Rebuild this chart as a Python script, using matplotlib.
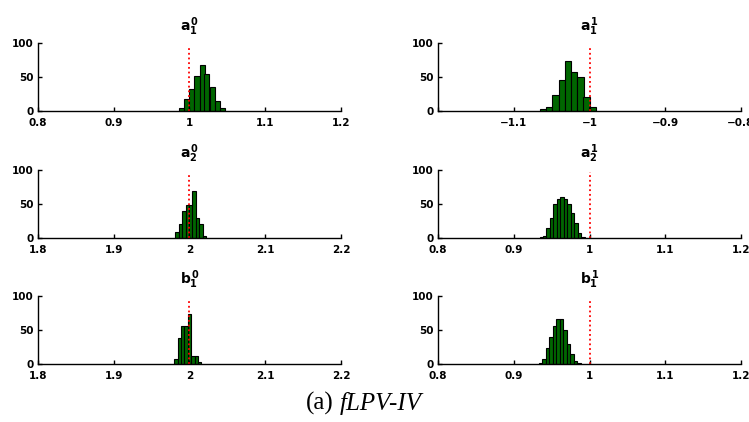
import matplotlib.pyplot as plt

plt.rcParams['font.family'] = ['DejaVu Sans']
plt.rcParams['mathtext.fontset'] = 'custom'
plt.rcParams['mathtext.rm'] = 'DejaVu Sans:bold'
plt.rcParams['mathtext.it'] = 'DejaVu Sans:bold'
plt.rcParams['mathtext.bf'] = 'DejaVu Sans:bold'

# panel titles and true parameter values
titles = [r'$a_1^0$', r'$a_1^1$', r'$a_2^0$', r'$a_2^1$', r'$b_1^0$', r'$b_1^1$']
true_values = [1.0, -1.0, 2.0, 1.0, 2.0, 1.0]
true_line_tops = [92, 92, 93, 97, 92, 95]

# histogram bins (centres) and counts
a10_centers = [0.989, 0.996, 1.003, 1.010, 1.017, 1.023, 1.030, 1.037, 1.044]
a10_counts = [5, 18, 32, 51, 68, 55, 36, 14, 5]
a11_centers = [-1.061, -1.053, -1.045, -1.036, -1.028, -1.020, -1.012, -1.004, -0.996]
a11_counts = [3, 6, 23, 46, 74, 57, 50, 20, 6]
a20_centers = [1.9837, 1.9882, 1.9927, 1.9972, 2.0017, 2.0062, 2.0107, 2.0152, 2.0197]
a20_counts = [9, 21, 39, 48, 48, 69, 30, 20, 3]
a21_centers = [0.9363, 0.9409, 0.9455, 0.9501, 0.9547, 0.9593, 0.9639,
               0.9685, 0.9731, 0.9777, 0.9823, 0.9869, 0.9915]
a21_counts = [1, 3, 14, 30, 50, 58, 60, 57, 50, 37, 22, 8, 2]
b10_centers = [1.9820, 1.9865, 1.9910, 1.9955, 2.0000, 2.0045, 2.0090, 2.0135]
b10_counts = [8, 38, 56, 56, 74, 12, 12, 3]
b11_centers = [0.9353, 0.9399, 0.9445, 0.9491, 0.9537, 0.9583, 0.9629,
               0.9675, 0.9721, 0.9767, 0.9813, 0.9859]
b11_counts = [2, 7, 24, 40, 56, 66, 66, 50, 30, 15, 5, 2]

centers = [a10_centers, a11_centers, a20_centers, a21_centers, b10_centers, b11_centers]
counts = [a10_counts, a11_counts, a20_counts, a21_counts, b10_counts, b11_counts]
bin_widths = [0.0068, 0.0082, 0.0045, 0.0046, 0.0045, 0.0046]

xticks = [[0.8, 0.9, 1.0, 1.1, 1.2],
          [-1.2, -1.1, -1.0, -0.9, -0.8],
          [1.8, 1.9, 2.0, 2.1, 2.2],
          [0.8, 0.9, 1.0, 1.1, 1.2],
          [1.8, 1.9, 2.0, 2.1, 2.2],
          [0.8, 0.9, 1.0, 1.1, 1.2]]
xticklabels = [['0.8', '0.9', '1', '1.1', '1.2'],
               ['', '\u22121.1', '\u22121', '\u22120.9', '\u22120.8'],
               ['1.8', '1.9', '2', '2.1', '2.2'],
               ['0.8', '0.9', '1', '1.1', '1.2'],
               ['1.8', '1.9', '2', '2.1', '2.2'],
               ['0.8', '0.9', '1', '1.1', '1.2']]

fig = plt.figure(figsize=(7.49, 4.22), dpi=100)

lefts = [0.0507, 0.5848]
bottoms = [0.7370, 0.4360, 0.1374]
w = 0.4045
h = 0.1611

for i in range(6):
    row, col = i // 2, i % 2
    ax = fig.add_axes([lefts[col], bottoms[row], w, h])
    ax.bar(centers[i], counts[i], width=bin_widths[i], color='#006600',
           edgecolor='black', linewidth=0.8)
    ax.plot([true_values[i], true_values[i]], [0, true_line_tops[i]],
            color='red', linestyle=(0, (1, 1.6)), linewidth=1.3)
    ax.set_xlim(xticks[i][0], xticks[i][-1])
    ax.set_ylim(0, 100)
    ax.set_xticks(xticks[i])
    ax.set_xticklabels(xticklabels[i])
    ax.set_yticks([0, 50, 100])
    ax.spines['top'].set_visible(False)
    ax.spines['right'].set_visible(False)
    ax.spines['left'].set_linewidth(1.0)
    ax.spines['bottom'].set_linewidth(1.0)
    ax.tick_params(direction='in', length=3, width=1.0, labelsize=7.5)
    ax.tick_params(axis='x', pad=5)
    ax.tick_params(axis='y', pad=3)
    for lab in ax.get_xticklabels() + ax.get_yticklabels():
        lab.set_fontweight('bold')
    ax.set_title(titles[i], fontsize=10, pad=9)

# caption: "(a)" upright, "fLPV-IV" italic, in a Times-like serif
fig.text(334 / 749, 0.045, '(a)', ha='right', va='center', fontsize=18,
         family='Liberation Serif')
fig.text(340 / 749, 0.045, 'fLPV-IV', ha='left', va='center', fontsize=18,
         family='Liberation Serif', style='italic')

plt.savefig('out.png', dpi=100)
